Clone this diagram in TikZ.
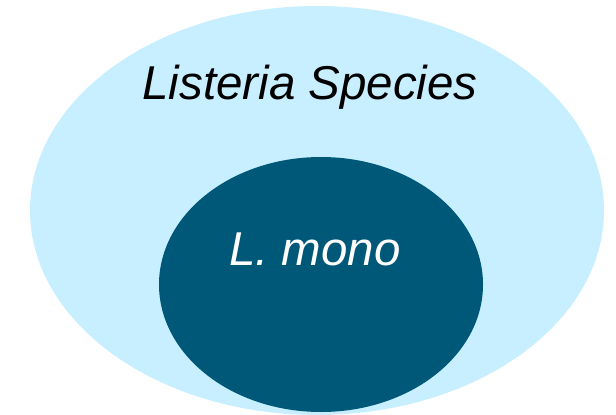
\documentclass[tikz,border=0pt]{standalone}
\usepackage{fontspec}
\setmainfont{Liberation Sans}
\definecolor{outerblue}{HTML}{C8EFFF}
\definecolor{innerblue}{HTML}{005878}
\begin{document}
\begin{tikzpicture}[x=1pt,y=-1pt,
  setlabel/.style={font=\fontsize{47.5}{57}\selectfont\itshape, anchor=base, inner sep=0pt}]
\useasboundingbox (0,0) rectangle (616,415);
\fill[outerblue] (317,210.5) ellipse [x radius=287, y radius=204.5];
\fill[innerblue] (321,284.5) ellipse [x radius=162, y radius=127.5];
\node[setlabel, text=black] (outer) at (310,99) {Listeria Species};
\node[setlabel, text=white] (inner) at (315,265) {L. mono};
\end{tikzpicture}
\end{document}
